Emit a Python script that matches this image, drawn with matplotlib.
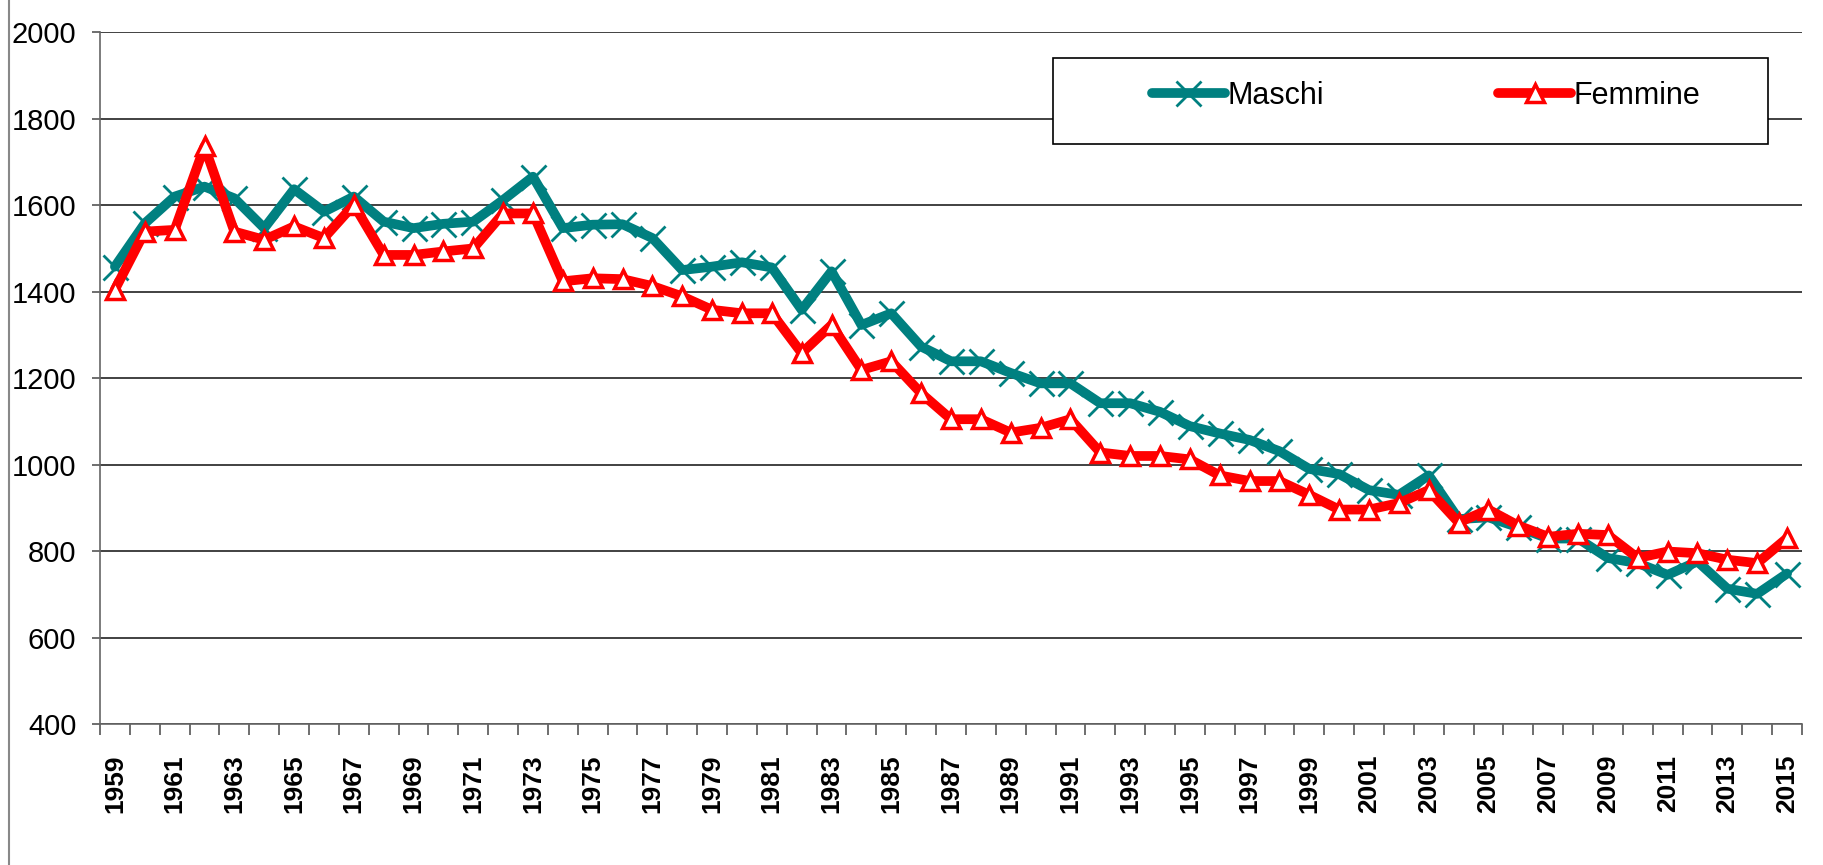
import numpy as np
import matplotlib
matplotlib.use("Agg")
import matplotlib.pyplot as plt
from matplotlib.patches import Rectangle
from matplotlib.lines import Line2D

years = np.arange(1959, 2016)
maschi = [1458, 1558, 1620, 1643, 1616, 1547, 1637, 1585, 1620, 1562,
          1547, 1557, 1562, 1612, 1666, 1547, 1555, 1556, 1524, 1450,
          1458, 1468, 1456, 1358, 1447, 1323, 1350, 1273, 1239, 1239,
          1212, 1188, 1188, 1142, 1142, 1122, 1089, 1072, 1057, 1031,
          990, 978, 941, 930, 975, 874, 878, 855, 829, 829,
          784, 772, 745, 776, 713, 701, 748]
femmine = [1405, 1539, 1543, 1736, 1539, 1520, 1551, 1524, 1601, 1485,
           1485, 1493, 1500, 1581, 1581, 1424, 1431, 1429, 1413, 1389,
           1358, 1350, 1350, 1258, 1323, 1219, 1239, 1165, 1105, 1105,
           1074, 1085, 1105, 1028, 1020, 1020, 1012, 975, 962, 962,
           930, 896, 896, 911, 941, 866, 896, 859, 833, 840,
           837, 784, 799, 795, 780, 772, 830]
yticks = [400, 600, 800, 1000, 1200, 1400, 1600, 1800, 2000]

sans = ['Liberation Sans', 'DejaVu Sans']

fig = plt.figure(figsize=(18.24, 8.65), dpi=100)
ax = fig.add_axes([100/1824, 1 - 724/865, 1702/1824, (724 - 32.3)/865])

x = np.arange(len(years))
ax.plot(x, maschi, color='#008080', lw=7, marker='x', ms=18, mew=2.0,
        solid_joinstyle='round', solid_capstyle='round', label='Maschi', zorder=3)
ax.plot(x, femmine, color='#ff0000', lw=7, marker='^', ms=12.5, mew=2.5,
        mfc='white', mec='#ff0000', solid_joinstyle='round',
        solid_capstyle='round', label='Femmine', zorder=4)

ax.set_xlim(-0.5, len(years) - 0.5)
ax.set_ylim(400, 2000)
ax.set_yticks(yticks)
ax.set_yticklabels([str(v) for v in yticks], family=sans, fontsize=21)
ax.tick_params(axis='y', length=6, width=1.2, color='#555555', pad=11)
ax.yaxis.grid(True, color='#333333', lw=1.3)
ax.set_axisbelow(True)

# tick marks at category boundaries, labels on every other year
ax.set_xticks(np.arange(-0.5, len(years)), labels=[])
ax.tick_params(axis='x', which='major', length=8, width=1.2, color='#555555')
ax.set_xticks(x[::2], minor=True)
ax.set_xticklabels([str(y) for y in years[::2]], minor=True, rotation=90,
                   family=sans, fontsize=19, fontweight='bold')
ax.tick_params(axis='x', which='minor', length=0, pad=22)

for s in ['top', 'right']:
    ax.spines[s].set_visible(False)
for s in ['left', 'bottom']:
    ax.spines[s].set_color('#666666')
    ax.spines[s].set_linewidth(1.2)

# legend box
ax.add_patch(Rectangle((1053/1824, 1 - 144/865), 715/1824, 86/865,
                       transform=fig.transFigure, facecolor='white',
                       edgecolor='black', lw=1.2, zorder=5, clip_on=False))
leg = ax.legend(loc='center', bbox_to_anchor=(1426/1824, 1 - 96/865),
                bbox_transform=fig.transFigure, ncol=2, frameon=False,
                handlelength=2.4, handletextpad=0.08, columnspacing=5.7,
                prop={'family': sans, 'size': 22})
leg.set_zorder(6)

fig.add_artist(Line2D([9/1824, 9/1824], [0, 1], color='#888888', lw=1.5))

fig.savefig('out.png', dpi=100, facecolor='white')
